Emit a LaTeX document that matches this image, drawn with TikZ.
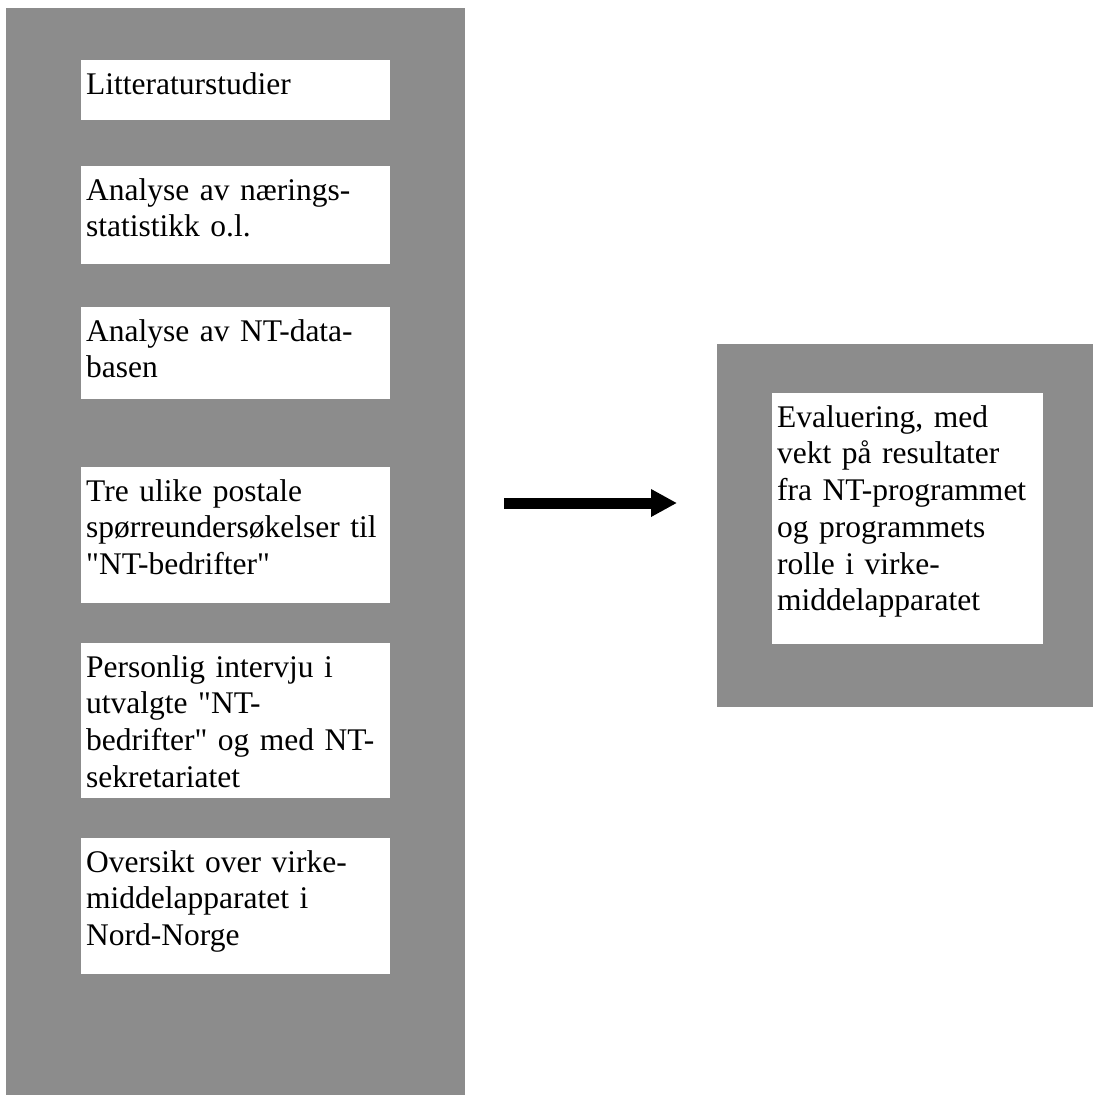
\documentclass[tikz,border=0pt]{standalone}
\usepackage{fontspec}
\setmainfont{Liberation Serif}[Ligatures=TeXOff]
\usetikzlibrary{arrows.meta}
\definecolor{panelgray}{RGB}{140,140,140}

\begin{document}
\begin{tikzpicture}[x=1pt,y=-1pt,
    panel/.style={fill=panelgray,anchor=north west,inner sep=0pt},
    task/.style={fill=white,anchor=north west,inner xsep=5pt,inner ysep=0pt,
      text width=299pt,align=left,text height=34pt,
      font=\fontsize{31.5}{36.7}\selectfont},
    flow/.style={line width=11pt,-{Triangle[length=26pt,width=26pt]}}]
   \useasboundingbox (0,0) rectangle (1093,1095);
   % grey panels
   \node[panel,minimum width=459pt,minimum height=1087pt] (methods) at (6,8) {};
   \node[panel,minimum width=376pt,minimum height=363pt] (evalframe) at (717,344) {};
   % method boxes
   \node[task,text depth=26pt] (lit) at (81,60) {Litteraturstudier};
   \node[task,text depth=64pt] (stat) at (81,166) {Analyse av nærings-\\statistikk o.l.};
   \node[task,text depth=58pt] (ntdb) at (81,307) {Analyse av NT-data-\\basen};
   \node[task,text depth=102pt] (survey) at (81,467) {Tre ulike postale\\spørreundersøkelser til\\"NT-bedrifter"};
   \node[task,text depth=121pt] (interview) at (81,643) {Personlig intervju i\\utvalgte "NT-\\bedrifter" og med NT-\\sekretariatet};
   \node[task,text depth=102pt] (overview) at (81,838) {Oversikt over virke-\\middelapparatet i\\Nord-Norge};
   % result
   \node[task,text width=261pt,text depth=217pt] (evaluation) at (772,393) {Evaluering, med\\vekt på resultater\\fra NT-programmet\\og programmets\\rolle i virke-\\middelapparatet};
   \coordinate (arrowlevel) at (0,503);
   \draw[flow,shorten <=39pt,shorten >=40pt] (methods.east |- arrowlevel) -- (evalframe.west |- arrowlevel);
\end{tikzpicture}
\end{document}
